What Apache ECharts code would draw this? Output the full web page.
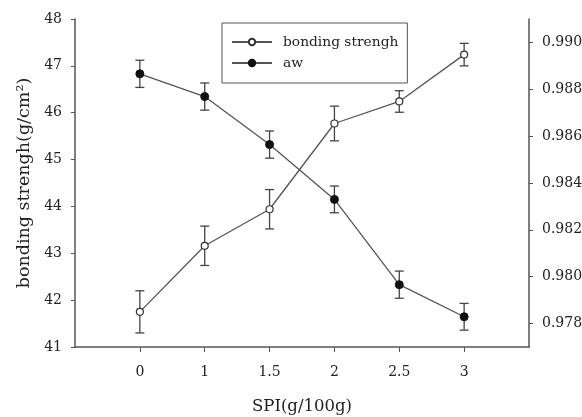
<!DOCTYPE html>
<html>
<head>
<meta charset="utf-8">
<script src="https://cdn.jsdelivr.net/npm/echarts@6/dist/echarts.min.js"></script>
<style>
  html, body { margin: 0; padding: 0; background: #fff; }
  #chart { width: 582px; height: 417px; }
</style>
</head>
<body>
<div id="chart"></div>
<script>
// SPI dosage levels (g/100g)
var categories = ['0', '1', '1.5', '2', '2.5', '3'];
// Bonding strength (g/cm2) with standard deviation
var bondStrength = [41.75, 43.16, 43.94, 45.77, 46.24, 47.24];
var bondErr = [0.45, 0.42, 0.42, 0.37, 0.23, 0.24];
// Water activity with standard deviation
var aw = [0.98866, 0.98769, 0.98564, 0.98330, 0.97966, 0.97829];
var awErr = [0.00058, 0.00058, 0.00058, 0.00057, 0.00058, 0.00057];
// Tick labels of the right axis
var awTicks = [0.978, 0.980, 0.982, 0.984, 0.986, 0.988, 0.990];

var FONT = '"DejaVu Serif", "Liberation Serif", serif';
var AXIS = '#555';
var TEXT = '#222';
var idx = categories.map(function (c, i) { return i; });

function pairs(vals) {
  return vals.map(function (v, i) { return [i, v]; });
}
function errData(vals, errs) {
  return vals.map(function (v, i) { return [i, v - errs[i], v + errs[i]]; });
}
function errorBars(params, api) {
  var x = api.value(0);
  var lo = api.coord([x, api.value(1)]);
  var hi = api.coord([x, api.value(2)]);
  var cap = 4.5;
  var style = { stroke: '#444', lineWidth: 1.3 };
  return {
    type: 'group',
    children: [
      { type: 'line', shape: { x1: lo[0], y1: lo[1], x2: hi[0], y2: hi[1] }, style: style },
      { type: 'line', shape: { x1: hi[0] - cap, y1: hi[1], x2: hi[0] + cap, y2: hi[1] }, style: style },
      { type: 'line', shape: { x1: lo[0] - cap, y1: lo[1], x2: lo[0] + cap, y2: lo[1] }, style: style }
    ]
  };
}

var chart = echarts.init(document.getElementById('chart'), null, { renderer: 'canvas' });
chart.setOption({
  animation: false,
  backgroundColor: '#fff',
  grid: { left: 75, right: 53, top: 19, bottom: 70, containLabel: false, outerBoundsMode: 'none' },
  legend: {
    orient: 'vertical',
    left: 222,
    top: 23,
    padding: [11, 9, 12, 9],
    itemGap: 5,
    itemWidth: 40,
    itemHeight: 8,
    borderColor: '#555',
    borderWidth: 1,
    textStyle: { fontFamily: FONT, fontSize: 13.8, lineHeight: 16, color: TEXT, padding: [0, 0, 0, 6] },
    data: ['bonding strengh', 'aw']
  },
  xAxis: {
    type: 'value',
    min: -1,
    max: 6,
    interval: 1,
    name: 'SPI(g/100g)',
    nameLocation: 'middle',
    nameGap: 51,
    nameTextStyle: { fontFamily: FONT, fontSize: 16.5, color: TEXT },
    axisLine: { show: true, onZero: false, lineStyle: { color: AXIS, width: 1.5 } },
    axisTick: { show: true, length: 5, customValues: idx, lineStyle: { color: AXIS } },
    axisLabel: {
      customValues: idx,
      margin: 18,
      fontFamily: FONT, fontSize: 14, color: TEXT,
      formatter: function (v) { return categories[Math.round(v)]; }
    },
    splitLine: { show: false }
  },
  yAxis: [
    {
      type: 'value',
      min: 41,
      max: 48,
      interval: 1,
      name: 'bonding strengh(g/cm\u00b2)',
      nameLocation: 'middle',
      nameRotate: 90,
      nameGap: 40,
      nameTextStyle: { fontFamily: FONT, fontSize: 17.5, color: TEXT },
      axisLine: { show: true, onZero: false, lineStyle: { color: AXIS, width: 1.5 } },
      axisTick: { show: true, length: 4, lineStyle: { color: AXIS } },
      axisLabel: { margin: 13, fontFamily: FONT, fontSize: 14, color: TEXT },
      splitLine: { show: false }
    },
    {
      type: 'value',
      position: 'right',
      min: 0.977,
      max: 0.991,
      axisLine: { show: true, onZero: false, lineStyle: { color: AXIS, width: 1.5 } },
      axisTick: { show: true, length: 4, customValues: awTicks, lineStyle: { color: AXIS } },
      axisLabel: {
        customValues: awTicks,
        margin: 13,
        fontFamily: FONT, fontSize: 14, color: TEXT,
        formatter: function (v) { return v.toFixed(3); }
      },
      splitLine: { show: false }
    }
  ],
  series: [
    {
      type: 'custom',
      yAxisIndex: 0,
      renderItem: errorBars,
      encode: { x: 0, y: [1, 2] },
      data: errData(bondStrength, bondErr),
      z: 1,
      silent: true
    },
    {
      type: 'custom',
      yAxisIndex: 1,
      renderItem: errorBars,
      encode: { x: 0, y: [1, 2] },
      data: errData(aw, awErr),
      z: 1,
      silent: true
    },
    {
      name: 'bonding strengh',
      type: 'line',
      yAxisIndex: 0,
      data: pairs(bondStrength),
      symbol: 'circle',
      symbolSize: 7,
      lineStyle: { color: '#555', width: 1.3 },
      itemStyle: { color: '#fff', borderColor: '#333', borderWidth: 1.2 },
      z: 3
    },
    {
      name: 'aw',
      type: 'line',
      yAxisIndex: 1,
      data: pairs(aw),
      symbol: 'circle',
      symbolSize: 8,
      lineStyle: { color: '#555', width: 1.3 },
      itemStyle: { color: '#111', borderColor: '#111', borderWidth: 1 },
      z: 3
    }
  ]
});
</script>
</body>
</html>
